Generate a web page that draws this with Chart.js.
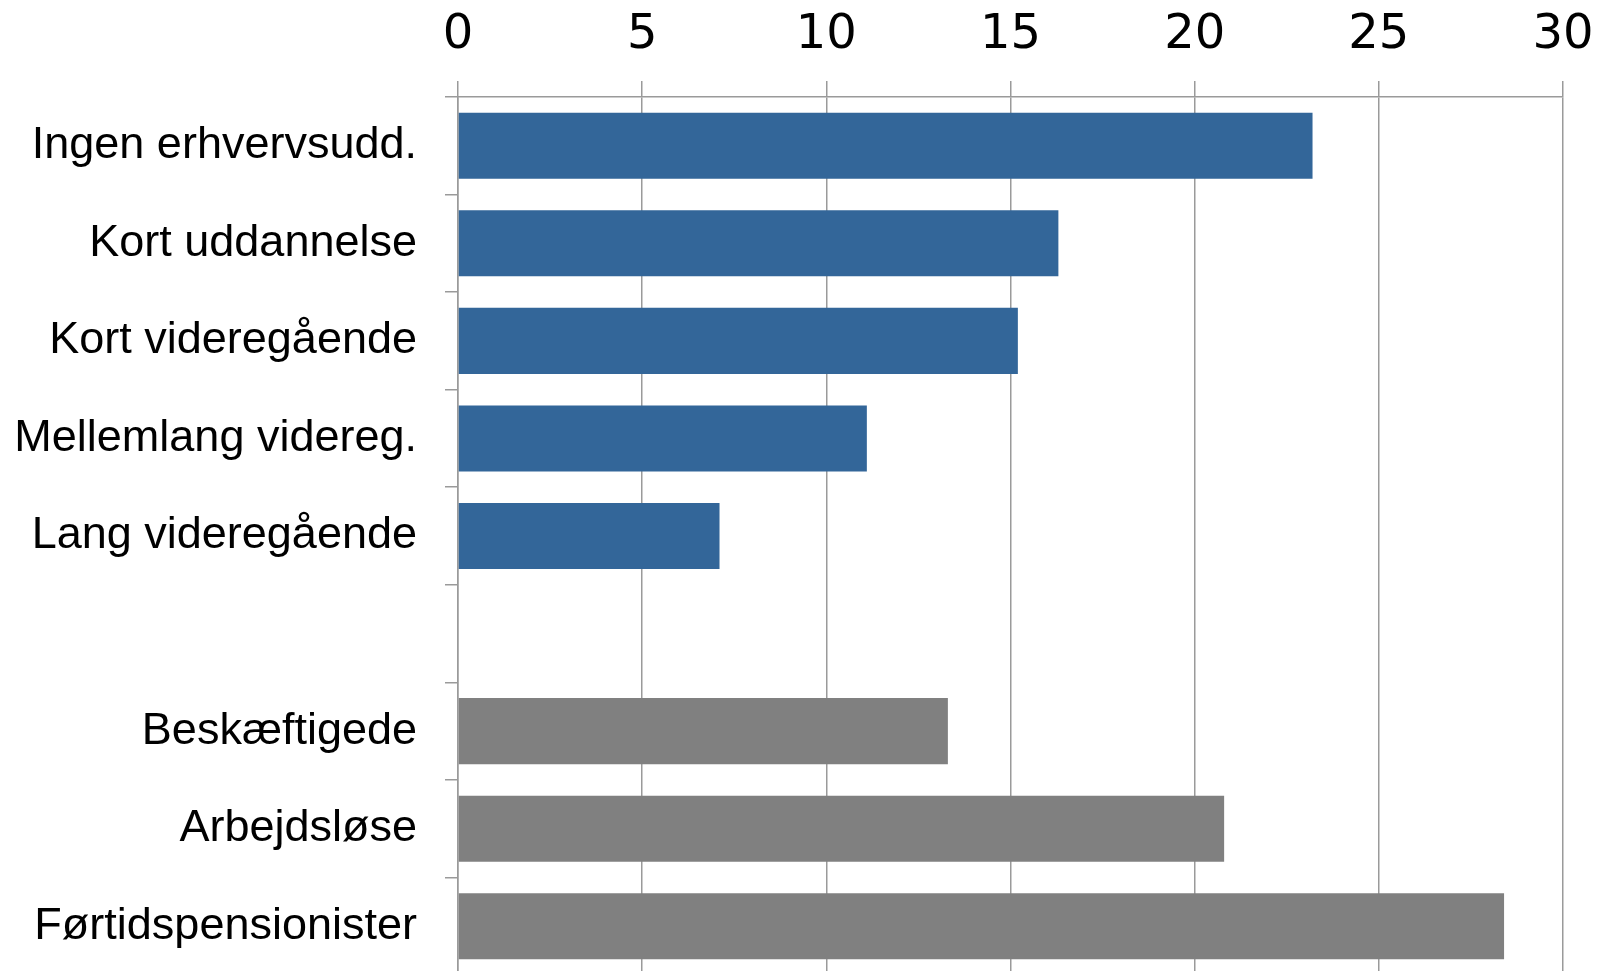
<!DOCTYPE html>
<html>
<head>
<meta charset="utf-8">
<script src="https://cdn.jsdelivr.net/npm/chart.js@4/dist/chart.umd.min.js"></script>
<style>
  html, body { margin: 0; padding: 0; background: #ffffff; overflow: hidden; }
  #wrap { width: 1599px; height: 971px; overflow: hidden; position: relative; }
  canvas { display: block; }
</style>
</head>
<body>
<div id="wrap"><canvas id="c" width="1599" height="976"></canvas></div>
<script>
const categories = ['Ingen erhvervsudd.', 'Kort uddannelse', 'Kort videregående', 'Mellemlang videreg.', 'Lang videregående', '', 'Beskæftigede', 'Arbejdsløse', 'Førtidspensionister'];
const values = [23.2, 16.3, 15.2, 11.1, 7.1, null, 13.3, 20.8, 28.4];
const groups = ['udd', 'udd', 'udd', 'udd', 'udd', '', 'status', 'status', 'status'];
const xMin = 0;
const xMax = 30;
const xStep = 5;

const groupColors = { udd: '#336699', status: '#808080', '': '#808080' };
const gridColor = '#9a9a9a';

new Chart(document.getElementById('c'), {
  type: 'bar',
  data: {
    labels: categories,
    datasets: [{
      data: values,
      backgroundColor: groups.map(g => groupColors[g]),
      borderWidth: 0,
      categoryPercentage: 1,
      barPercentage: 0.677
    }]
  },
  options: {
    indexAxis: 'y',
    responsive: false,
    devicePixelRatio: 1,
    animation: false,
    layout: { padding: { left: 0, right: 36, top: 0, bottom: 1 } },
    plugins: { legend: { display: false }, tooltip: { enabled: false } },
    scales: {
      x: {
        position: 'top',
        min: xMin,
        max: xMax,
        ticks: {
          stepSize: xStep,
          color: '#000000',
          padding: 17,
          font: { family: 'DejaVu Sans', size: 48 }
        },
        grid: { color: gridColor, lineWidth: 1.5, tickLength: 16, drawOnChartArea: true },
        border: { color: gridColor, width: 1.5 },
        afterFit: s => { s.height = 97; s.paddingLeft = 0; s.paddingRight = 0; }
      },
      y: {
        position: 'left',
        ticks: {
          color: '#000000',
          padding: 28,
          font: { family: 'Liberation Sans', size: 45 }
        },
        grid: { color: gridColor, lineWidth: 1.5, tickLength: 13, drawOnChartArea: false, offset: true },
        border: { color: gridColor, width: 1.5 },
        afterFit: s => { s.width = 458; s.paddingTop = 0; s.paddingBottom = 0; }
      }
    }
  }
});
</script>
</body>
</html>
